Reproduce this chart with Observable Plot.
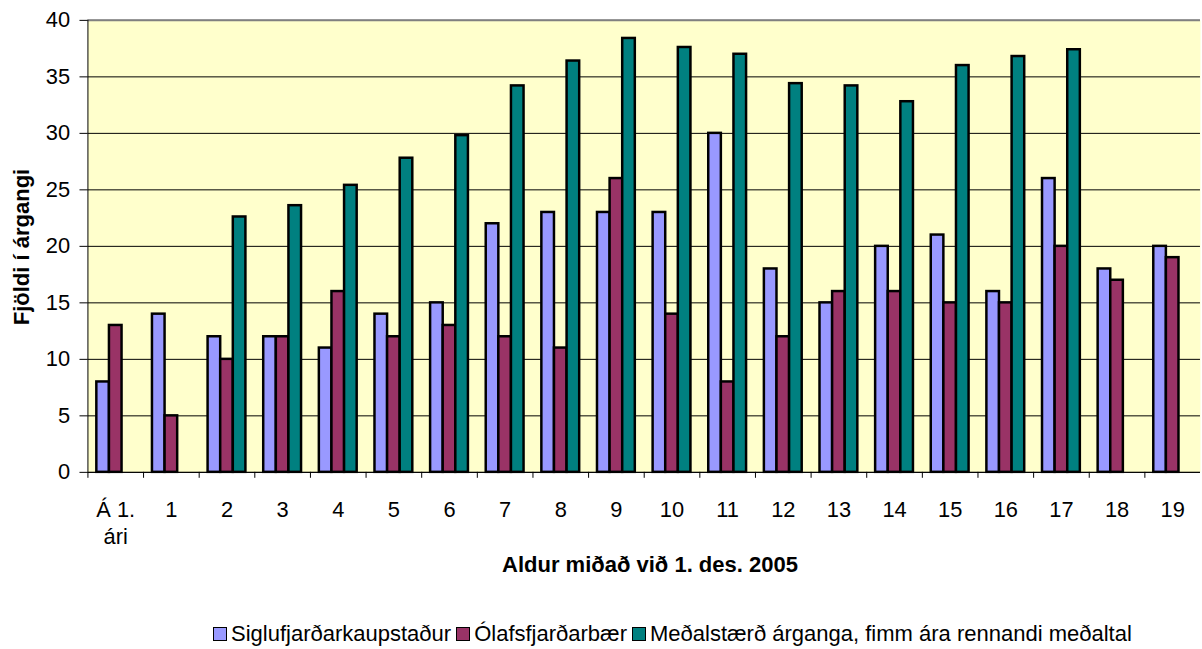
<!DOCTYPE html>
<html>
<head>
<meta charset="utf-8">
<script src="https://cdn.jsdelivr.net/npm/d3@7"></script>
<script src="https://cdn.jsdelivr.net/npm/@observablehq/plot@0.6"></script>
<style>
  html, body { margin: 0; padding: 0; overflow: hidden; background: #fff; }
  #wrap { position: relative; width: 1202px; height: 649px; overflow: hidden; font-family: "Liberation Sans", Arial, sans-serif; }
  #chart { position: absolute; left: 0; top: 0; }
  #chart svg text { font-size: 22px; font-family: "Liberation Sans", Arial, sans-serif; fill: #000; }
  .ytitle { position: absolute; left: 22px; top: 247px; transform: translate(-50%, -50%) rotate(-90deg); font-weight: bold; font-size: 22px; white-space: nowrap; }
  .xtitle { position: absolute; left: 650px; top: 565px; transform: translate(-50%, -50%); font-weight: bold; font-size: 22px; white-space: nowrap; }
  .legend { position: absolute; left: 213px; top: 634px; transform: translateY(-50%); display: flex; align-items: center; font-size: 22px; white-space: nowrap; }
  .legend .item { display: flex; align-items: center; margin-right: 5px; }
  .legend .sw { width: 12px; height: 12px; border: 1.5px solid #000; margin-right: 4px; }
</style>
</head>
<body>
<div id="wrap">
  <div id="chart"></div>
  <div class="ytitle">Fjöldi í árgangi</div>
  <div class="xtitle">Aldur miðað við 1. des. 2005</div>
  <div class="legend" id="legend"></div>
</div>
<script>
const categories = ["Á 1. ári", "1", "2", "3", "4", "5", "6", "7", "8", "9", "10", "11", "12", "13", "14", "15", "16", "17", "18", "19"];
const seriesNames = ["Siglufjarðarkaupstaður", "Ólafsfjarðarbær", "Meðalstærð árganga, fimm ára rennandi meðaltal"];
const siglufjordur = [8, 14, 12, 12, 11, 14, 15, 22, 23, 23, 23, 30, 18, 15, 20, 21, 16, 26, 18, 20];
const olafsfjordur = [13, 5, 10, 12, 16, 12, 13, 12, 11, 26, 14, 8, 12, 16, 16, 15, 15, 20, 17, 19];
const medaltal = [null, null, 22.6, 23.6, 25.4, 27.8, 29.8, 34.2, 36.4, 38.4, 37.6, 37.0, 34.4, 34.2, 32.8, 36.0, 36.8, 37.4, null, null];
const colors = ["#9999FF", "#993366", "#008080"];
const yTicks = [0, 5, 10, 15, 20, 25, 30, 35, 40];

const seriesValues = [siglufjordur, olafsfjordur, medaltal];

const W = 1210, ML = 88, MR = 2;
const step = (W - ML - MR) / categories.length;
const gap = step * 0.16;
const bw = (step - 2 * gap) / seriesNames.length;
const fmt = d => d.replace(" ári", "\nári");

const barMarks = seriesValues.map((vals, j) =>
  Plot.barY(
    categories.map((c, i) => ({cat: c, series: seriesNames[j], value: vals[i]})),
    {
      x: "cat", y: "value", fill: "series",
      stroke: "#000", strokeWidth: 2.5,
      insetLeft: gap + j * bw,
      insetRight: gap + (seriesNames.length - 1 - j) * bw
    }
  )
);

const chart = Plot.plot({
  width: W,
  height: 570,
  marginLeft: ML,
  marginRight: MR,
  marginTop: 20,
  marginBottom: 95,
  style: {fontFamily: "'Liberation Sans', Arial, sans-serif", fontSize: "22px", background: "transparent", color: "#000"},
  x: {domain: categories, padding: 0, label: null},
  y: {domain: [0, 40], label: null},
  color: {domain: seriesNames, range: colors},
  marks: [
    Plot.frame({fill: "#FFFFCC", stroke: null}),
    Plot.gridY(yTicks, {stroke: "#000", strokeOpacity: 1, strokeWidth: 1}),
    Plot.ruleY([40], {stroke: "#808080", strokeWidth: 2}),
    ...barMarks,
    Plot.ruleY([0], {stroke: "#000", strokeWidth: 1}),
    Plot.ruleX([categories[0]], {dx: -step / 2, stroke: "#000", strokeWidth: 1}),
    Plot.axisY(yTicks, {tickSize: 8, tickPadding: 10, label: null}),
    Plot.axisX({anchor: "bottom", tickSize: 0, tickPadding: 25, tickFormat: fmt, lineHeight: 1.25, label: null}),
    Plot.axisX({anchor: "bottom", tickSize: 6, tickFormat: () => "", dx: -step / 2, label: null})
  ]
});
document.getElementById("chart").appendChild(chart);

const legend = document.getElementById("legend");
seriesNames.forEach((s, i) => {
  const item = document.createElement("div");
  item.className = "item";
  const sw = document.createElement("div");
  sw.className = "sw";
  sw.style.background = colors[i];
  const t = document.createElement("span");
  t.textContent = s;
  item.appendChild(sw);
  item.appendChild(t);
  legend.appendChild(item);
});
</script>
</body>
</html>
